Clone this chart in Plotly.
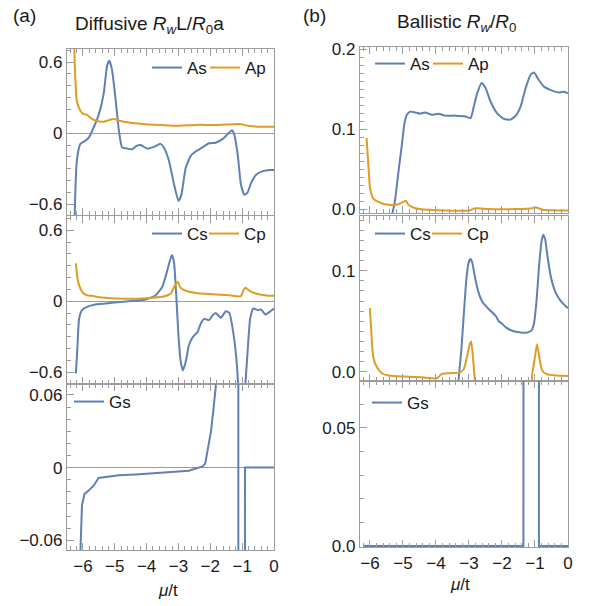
import plotly.graph_objects as go

BLUE = "#5E81B5"
ORANGE = "#E19C24"
FRAME = "#9c9c9c"
TXT = "#1a1a1a"
FONT = "Liberation Sans, Arial, sans-serif"

# ---------------- data: (a) Diffusive ----------------
as_a_x = [-6.27, -6.25, -6.19, -6.08, -5.93, -5.82, -5.66, -5.51, -5.35, -5.24, -5.17, -5.09, -4.98, -4.87,
          -4.77, -4.61, -4.45, -4.33, -4.19, -3.98, -3.77, -3.56, -3.46, -3.30, -3.14, -3.00, -2.91, -2.77,
          -2.61, -2.46, -2.25, -2.04, -1.83, -1.62, -1.46, -1.32, -1.25, -1.14, -1.04, -0.93, -0.83, -0.72,
          -0.56, -0.35, -0.14, 0.0]
as_a_y = [-0.95, -0.60, -0.23, -0.09, -0.065, -0.04, 0.05, 0.15, 0.33, 0.57, 0.61, 0.54, 0.30, 0.02,
          -0.12, -0.13, -0.135, -0.11, -0.10, -0.13, -0.115, -0.09, -0.12, -0.23, -0.43, -0.57, -0.52, -0.29,
          -0.19, -0.155, -0.12, -0.085, -0.08, -0.05, -0.01, 0.025, -0.01, -0.18, -0.43, -0.52, -0.50, -0.42,
          -0.35, -0.32, -0.31, -0.31]

ap_a_x = [-6.30, -6.27, -6.24, -6.19, -6.08, -5.98, -5.87, -5.72, -5.51, -5.35, -5.19, -5.03, -4.87, -4.56,
          -4.03, -3.51, -3.09, -2.46, -1.83, -1.30, -1.04, -0.77, -0.35, 0.0]
ap_a_y = [0.95, 0.70, 0.47, 0.27, 0.19, 0.16, 0.155, 0.12, 0.10, 0.096, 0.11, 0.12, 0.105, 0.09,
          0.076, 0.068, 0.062, 0.07, 0.07, 0.076, 0.076, 0.06, 0.054, 0.054]

cs_a_x = [-6.22, -6.17, -6.12, -6.03, -5.87, -5.61, -5.09, -4.56, -4.03, -3.72, -3.51, -3.35, -3.21, -3.14,
          -3.07, -3.00, -2.93, -2.86, -2.77, -2.67, -2.54, -2.40, -2.30, -2.19, -2.04, -1.93, -1.83, -1.67,
          -1.51, -1.40, -1.30, -1.19, -1.12, -1.06, -0.96, -0.90, -0.83, -0.75, -0.65, -0.51, -0.41, -0.27,
          -0.14, 0.0]
cs_a_y = [-0.61, -0.37, -0.15, -0.076, -0.048, -0.028, -0.014, 0.0, 0.014, 0.05, 0.12, 0.26, 0.39, 0.33,
          0.05, -0.29, -0.51, -0.585, -0.51, -0.37, -0.30, -0.26, -0.19, -0.15, -0.16, -0.12, -0.10, -0.14,
          -0.085, -0.10, -0.23, -0.46, -0.74, -1.20, -1.20, -0.71, -0.43, -0.15, -0.062, -0.076, -0.07, -0.113,
          -0.09, -0.062]

cp_a_x = [-6.22, -6.17, -6.08, -5.98, -5.87, -5.72, -5.40, -4.98, -4.56, -4.03, -3.51, -3.24, -3.11, -3.03,
          -2.93, -2.77, -2.46, -1.93, -1.40, -1.04, -0.98, -0.90, -0.77, -0.56, -0.25, 0.0]
cp_a_y = [0.32, 0.19, 0.107, 0.065, 0.05, 0.045, 0.031, 0.023, 0.02, 0.025, 0.037, 0.065, 0.135, 0.164,
          0.113, 0.088, 0.07, 0.059, 0.05, 0.042, 0.08, 0.113, 0.088, 0.065, 0.048, 0.045]

gs_a_x = [-6.10, -6.08, -6.03, -5.95, -5.82, -5.66, -5.51, -5.30, -4.87, -4.35, -3.72, -3.19, -2.67, -2.46,
          -2.25, -2.16, -2.09, -1.98, -1.91, -1.85, -1.80, -1.75, -1.12, -1.12, -0.91, -0.91, 0.0]
gs_a_y = [-0.12, -0.07, -0.031, -0.0217, -0.019, -0.0147, -0.0086, -0.0078, -0.0064, -0.0056, -0.0044,
          -0.0036, -0.0025, -0.0008, 0.0008, 0.0033, 0.0144, 0.0297, 0.046, 0.063, 0.074, 0.12, 0.5, -0.5,
          -0.5, 0.0, 0.0]

# ---------------- data: (b) Ballistic ----------------
as_b_x = [-5.50, -5.32, -5.24, -5.14, -5.04, -4.95, -4.88, -4.78, -4.63, -4.48, -4.32, -4.12, -3.92, -3.72,
          -3.41, -3.11, -2.95, -2.85, -2.75, -2.62, -2.50, -2.35, -2.14, -1.94, -1.74, -1.58, -1.43, -1.28,
          -1.13, -1.03, -0.89, -0.72, -0.52, -0.26, -0.11, 0.0]
as_b_y = [-0.02, -0.005, 0.011, 0.045, 0.078, 0.108, 0.118, 0.122, 0.121, 0.1195, 0.121, 0.118, 0.1195,
          0.117, 0.117, 0.116, 0.114, 0.129, 0.145, 0.158, 0.152, 0.135, 0.1195, 0.113, 0.112, 0.117, 0.129,
          0.152, 0.1685, 0.171, 0.162, 0.153, 0.149, 0.146, 0.147, 0.145]

ap_b_x = [-6.10, -6.05, -6.00, -5.90, -5.75, -5.54, -5.34, -5.14, -4.98, -4.91, -4.83, -4.63, -4.22, -3.61,
          -3.00, -2.80, -2.40, -1.58, -1.08, -0.97, -0.77, 0.0]
ap_b_y = [0.089, 0.057, 0.028, 0.013, 0.009, 0.006, 0.005, 0.006, 0.009, 0.0105, 0.005, 0.001, -0.001,
          -0.002, -0.002, 0.001, 0.0, 0.0, 0.001, 0.002, -0.001, -0.002]

cs_b_x = [-3.35, -3.23, -3.16, -3.08, -3.01, -2.95, -2.90, -2.82, -2.72, -2.60, -2.40, -2.19, -2.09, -2.01,
          -1.89, -1.69, -1.43, -1.23, -1.10, -1.03, -0.95, -0.87, -0.80, -0.75, -0.69, -0.62, -0.52, -0.37,
          -0.21, -0.06, 0.0]
cs_b_y = [-0.02, 0.022, 0.055, 0.091, 0.108, 0.1115, 0.108, 0.094, 0.0795, 0.0696, 0.062, 0.0554, 0.0498,
          0.048, 0.0442, 0.0406, 0.039, 0.039, 0.041, 0.048, 0.0713, 0.1076, 0.129, 0.1356, 0.1307, 0.114,
          0.094, 0.078, 0.0696, 0.0647, 0.063]

cp_b_x = [-6.00, -5.95, -5.90, -5.80, -5.64, -5.44, -4.93, -4.43, -3.97, -3.82, -3.61, -3.31, -3.16, -3.06,
          -2.97, -2.93, -2.88, -2.83, -2.78, -2.00, -1.15, -1.08, -1.00, -0.94, -0.87, -0.79, -0.67, -0.37, 0.0]
cp_b_y = [0.063, 0.035, 0.015, 0.0053, -0.0013, -0.0036, -0.0046, -0.0053, -0.0063, -0.002, -0.0013,
          -0.0007, 0.0026, 0.015, 0.028, 0.030, 0.015, -0.0046, -0.02, -0.03, -0.02, -0.0013, 0.015, 0.0274,
          0.015, 0.002, -0.002, -0.0036, -0.004]

gs_b_x = [-6.20, -1.35, -1.34, -0.89, -0.88, 0.0]
gs_b_y = [0.0, 0.0, 1.0, 1.0, 0.0, 0.0]

# ---------------- ticks ----------------
x_tickvals = [-6, -5, -4, -3, -2, -1, 0]
x_ticktext = ["−6", "−5", "−4", "−3", "−2", "−1", "0"]
ya_tickvals = [-0.6, 0, 0.6]
ya_ticktext = ["−0.6", "0", "0.6"]
ga_tickvals = [-0.06, 0, 0.06]
ga_ticktext = ["−0.06", "0", "0.06"]
yb1_tickvals = [0.0, 0.1, 0.2]
yb1_ticktext = ["0.0", "0.1", "0.2"]
yb2_tickvals = [0.0, 0.1]
yb2_ticktext = ["0.0", "0.1"]
yb3_tickvals = [0.0, 0.05]
yb3_ticktext = ["0.0", "0.05"]

W, H = 590, 606


def px_x(p):
    return p / W


def px_y(p):
    return 1 - p / H


fig = go.Figure()

# (xaxis, yaxis, name, x, y, colour, smooth, legend position in px: left edge of entry, vertical centre)
series = [
    ("x", "y", "As", as_a_x, as_a_y, BLUE, True, (147, 68)),
    ("x", "y", "Ap", ap_a_x, ap_a_y, ORANGE, True, (205, 68)),
    ("x2", "y2", "Cs", cs_a_x, cs_a_y, BLUE, True, (147, 234)),
    ("x2", "y2", "Cp", cp_a_x, cp_a_y, ORANGE, True, (204, 234)),
    ("x3", "y3", "Gs", gs_a_x, gs_a_y, BLUE, False, (69, 402)),
    ("x4", "y4", "As", as_b_x, as_b_y, BLUE, True, (370, 64)),
    ("x4", "y4", "Ap", ap_b_x, ap_b_y, ORANGE, True, (428, 64)),
    ("x5", "y5", "Cs", cs_b_x, cs_b_y, BLUE, True, (370, 234)),
    ("x5", "y5", "Cp", cp_b_x, cp_b_y, ORANGE, True, (427, 234)),
    ("x6", "y6", "Gs", gs_b_x, gs_b_y, BLUE, False, (367, 403)),
]

legends = {}
for i, (xa, ya, name, xs, ys, col, smooth, (lx, ly)) in enumerate(series):
    lg = "legend" if i == 0 else f"legend{i + 1}"
    line = dict(color=col, width=2)
    if smooth:
        line.update(shape="spline", smoothing=0.5)
    fig.add_trace(go.Scatter(x=xs, y=ys, mode="lines", name=name, xaxis=xa, yaxis=ya,
                             line=line, legend=lg))
    legends[lg] = dict(x=px_x(lx), y=px_y(ly), xref="container", yref="container",
                       xanchor="left", yanchor="middle", orientation="h",
                       bgcolor="rgba(0,0,0,0)", font=dict(family=FONT, size=17, color=TXT),
                       itemwidth=30)
fig.update_layout(legends)

tickfont = dict(family=FONT, size=17, color=TXT)


def xaxis(domain, rng, anchor, labels):
    return dict(domain=domain, range=rng, anchor=anchor, showline=True, linecolor=FRAME, linewidth=1.3,
                mirror="ticks", ticks="inside", ticklen=7, tickwidth=1, tickcolor=FRAME,
                tickmode="array", tickvals=x_tickvals, ticktext=x_ticktext, showticklabels=labels,
                minor=dict(ticks="inside", ticklen=4, tickcolor=FRAME, tickmode="linear", tick0=0, dtick=0.2),
                showgrid=False, zeroline=False, tickfont=tickfont, fixedrange=True, automargin=False)


def yaxis(domain, rng, anchor, tv, tt, mdt, zl):
    return dict(domain=domain, range=rng, anchor=anchor, showline=True, linecolor=FRAME, linewidth=1.3,
                mirror=True, ticks="inside", ticklen=7, tickwidth=1, tickcolor=FRAME,
                tickmode="array", tickvals=tv, ticktext=tt,
                minor=dict(ticks="inside", ticklen=4, tickcolor=FRAME, tickmode="linear", tick0=0, dtick=mdt),
                showgrid=False, zeroline=zl, zerolinecolor=FRAME, zerolinewidth=1,
                tickfont=tickfont, fixedrange=True, automargin=False)


LX = [px_x(67), px_x(274)]
RX = [px_x(360), px_x(568)]

fig.update_layout(
    xaxis=xaxis(LX, [-6.5, 0.0], "y", False),
    xaxis2=xaxis(LX, [-6.5, 0.0], "y2", False),
    xaxis3=xaxis(LX, [-6.5, 0.0], "y3", True),
    xaxis4=xaxis(RX, [-6.3, 0.0], "y4", False),
    xaxis5=xaxis(RX, [-6.3, 0.0], "y5", False),
    xaxis6=xaxis(RX, [-6.3, 0.0], "y6", True),
    yaxis=yaxis([px_y(215), px_y(49)], [-0.69, 0.71], "x", ya_tickvals, ya_ticktext, 0.1, True),
    yaxis2=yaxis([px_y(384), px_y(216)], [-0.70, 0.72], "x2", ya_tickvals, ya_ticktext, 0.1, True),
    yaxis3=yaxis([px_y(550), px_y(384)], [-0.068, 0.069], "x3", ga_tickvals, ga_ticktext, 0.01, True),
    yaxis4=yaxis([px_y(213), px_y(47)], [-0.005, 0.203], "x4", yb1_tickvals, yb1_ticktext, 0.01, False),
    yaxis5=yaxis([px_y(381), px_y(216)], [-0.009, 0.154], "x5", yb2_tickvals, yb2_ticktext, 0.01, False),
    yaxis6=yaxis([px_y(547), px_y(381)], [-0.0004, 0.0698], "x6", yb3_tickvals, yb3_ticktext, 0.01, False),
)

ann_font = dict(family=FONT, size=19, color=TXT)
lab_font = dict(family=FONT, size=17, color=TXT)
annotations = [
    dict(text="(a)", x=px_x(11), y=px_y(16), xanchor="left", font=ann_font),
    dict(text="Diffusive <i>R</i><sub><i>w</i></sub>L/<i>R</i><sub>0</sub>a", x=px_x(73), y=px_y(25),
         xanchor="left", font=ann_font),
    dict(text="(b)", x=px_x(301), y=px_y(16), xanchor="left", font=ann_font),
    dict(text="Ballistic <i>R</i><sub><i>w</i></sub>/<i>R</i><sub>0</sub>", x=px_x(395), y=px_y(23),
         xanchor="left", font=ann_font),
    dict(text="<i>μ</i>/t", x=px_x(168), y=px_y(590), xanchor="center", font=lab_font),
    dict(text="<i>μ</i>/t", x=px_x(460), y=px_y(584), xanchor="center", font=lab_font),
]
for a in annotations:
    a.update(xref="paper", yref="paper", showarrow=False, yanchor="middle")
fig.update_layout(annotations=annotations)

fig.update_layout(width=W, height=H, margin=dict(l=0, r=0, t=0, b=0, autoexpand=False),
                  paper_bgcolor="white", plot_bgcolor="white", showlegend=True)

fig.write_html("out.html", config={"displayModeBar": False},
               post_script="document.body.style.margin='0px';")
